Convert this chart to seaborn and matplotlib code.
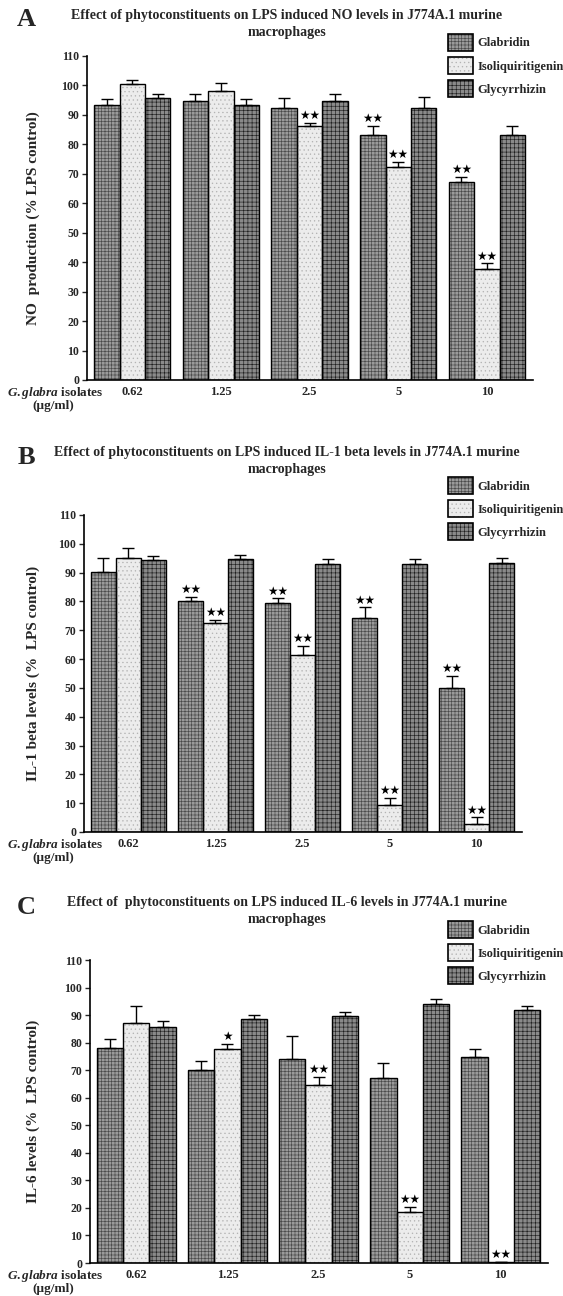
import numpy as np
import pandas as pd
import matplotlib
matplotlib.use("Agg")
import matplotlib.pyplot as plt
from matplotlib.patches import Patch, Rectangle
import seaborn as sns

# concentrations of the G. glabra isolates (ug/ml) and the three compounds
concentrations = ["0.62", "1.25", "2.5", "5", "10"]
compounds = ["Glabridin", "Isoliquiritigenin", "Glycyrrhizin"]

# A - NO production (% LPS control)
no_glab = [93.2, 94.7, 92.2, 83.2, 67.2]
no_glab_err = [2.1, 2.5, 3.6, 3.1, 1.8]
no_iso = [100.5, 98.0, 86.3, 72.3, 37.6]
no_iso_err = [1.5, 3.0, 1.0, 1.8, 2.0]
no_glyc = [95.7, 93.3, 94.7, 92.5, 83.3]
no_glyc_err = [1.5, 2.0, 2.5, 3.5, 3.0]
no_glab_sig = [0, 0, 0, 2, 2]
no_iso_sig = [0, 0, 2, 2, 2]
no_glyc_sig = [0, 0, 0, 0, 0]

# B - IL-1 beta levels (% LPS control)
il1_glab = [90.3, 80.3, 79.4, 74.2, 49.8]
il1_glab_err = [4.8, 1.4, 1.7, 3.8, 4.4]
il1_iso = [95.2, 72.5, 61.5, 9.2, 2.7]
il1_iso_err = [3.5, 1.2, 3.2, 2.7, 2.4]
il1_glyc = [94.5, 94.8, 93.0, 93.0, 93.2]
il1_glyc_err = [1.4, 1.4, 1.9, 1.9, 2.0]
il1_glab_sig = [0, 2, 2, 2, 2]
il1_iso_sig = [0, 2, 2, 2, 2]
il1_glyc_sig = [0, 0, 0, 0, 0]

# C - IL-6 levels (% LPS control)
il6_glab = [78.0, 70.0, 73.9, 67.3, 74.9]
il6_glab_err = [3.4, 3.5, 8.5, 5.4, 2.9]
il6_iso = [87.3, 77.6, 64.8, 18.6, 0.4]
il6_iso_err = [6.0, 2.0, 2.8, 1.8, 0.0]
il6_glyc = [85.8, 88.5, 89.5, 94.2, 92.0]
il6_glyc_err = [2.0, 1.5, 1.6, 1.8, 1.3]
il6_glab_sig = [0, 0, 0, 0, 0]
il6_iso_sig = [0, 1, 2, 2, 2]
il6_glyc_sig = [0, 0, 0, 0, 0]

yticks = list(range(0, 111, 10))

panels = [
    dict(letter="A",
         title="Effect of phytoconstituents on LPS induced NO levels in J774A.1 murine\nmacrophages",
         ylabel="NO  production (% LPS control)",
         vals=[no_glab, no_iso, no_glyc], errs=[no_glab_err, no_iso_err, no_glyc_err],
         sig=[no_glab_sig, no_iso_sig, no_glyc_sig],
         # layout in pixels: left, right, y of 110, y of 0, title y, legend top
         px=(87, 533, 56, 380, 15, 34)),
    dict(letter="B",
         title="Effect of phytoconstituents on LPS induced IL-1 beta levels in J774A.1 murine\nmacrophages",
         ylabel="IL-1 beta levels (%  LPS control)",
         vals=[il1_glab, il1_iso, il1_glyc], errs=[il1_glab_err, il1_iso_err, il1_glyc_err],
         sig=[il1_glab_sig, il1_iso_sig, il1_glyc_sig],
         px=(84, 522, 515, 832, 452, 477)),
    dict(letter="C",
         title="Effect of  phytoconstituents on LPS induced IL-6 levels in J774A.1 murine\nmacrophages",
         ylabel="IL-6 levels (%  LPS control)",
         vals=[il6_glab, il6_iso, il6_glyc], errs=[il6_glab_err, il6_iso_err, il6_glyc_err],
         sig=[il6_glab_sig, il6_iso_sig, il6_glyc_sig],
         px=(90, 548, 960, 1263, 902, 921)),
]

# halftone look of the printed bars: face colour, hatch, hatch colour
styles = {
    "Glabridin": ("#9a9a9a", "+++++", "#484848"),
    "Isoliquiritigenin": ("#ececec", "....", "#b4b4b4"),
    "Glycyrrhizin": ("#8a8a8a", "++++", "#1e1e1e"),
}

sns.set_style("white")
plt.rcParams["font.family"] = ["Liberation Serif", "DejaVu Sans"]
plt.rcParams["font.weight"] = "bold"
plt.rcParams["hatch.linewidth"] = 0.45
plt.rcParams["mathtext.fontset"] = "custom"
plt.rcParams["mathtext.it"] = "Liberation Serif:italic:bold"
plt.rcParams["mathtext.rm"] = "Liberation Serif:bold"

W, H = 563, 1296
fig = plt.figure(figsize=(W / 100, H / 100), dpi=100)

for p in panels:
    left, right, ytop, ybot, title_y, leg_top = p["px"]
    ax = fig.add_axes([left / W, 1 - ybot / H, (right - left) / W, (ybot - ytop) / H])

    df = pd.DataFrame({
        "conc": np.tile(concentrations, len(compounds)),
        "compound": np.repeat(compounds, len(concentrations)),
        "value": np.concatenate(p["vals"]),
        "err": np.concatenate(p["errs"]),
        "sig": np.concatenate(p["sig"]),
    })

    sns.barplot(data=df, x="conc", y="value", hue="compound",
                order=concentrations, hue_order=compounds,
                palette=[styles[c][0] for c in compounds],
                width=0.86, gap=0, errorbar=None, legend=False, ax=ax)

    for cont, comp in zip(ax.containers, compounds):
        face, hatch, hc = styles[comp]
        sub = df[df["compound"] == comp].set_index("conc").loc[concentrations]
        xs = []
        for bar, err, n in zip(cont, sub["err"], sub["sig"]):
            bar.set_edgecolor(hc)
            bar.set_hatch(hatch)
            bar.set_linewidth(0)
            ax.add_patch(Rectangle(bar.get_xy(), bar.get_width(), bar.get_height(),
                                   fill=False, edgecolor="black", linewidth=1.0, zorder=3))
            x = bar.get_x() + bar.get_width() / 2
            xs.append(x)
            if n:
                ax.annotate("\u2605" * int(n), (x, bar.get_height() + err), xytext=(0, 0.5),
                            textcoords="offset points", ha="center", va="bottom",
                            fontsize=8.5, family=["DejaVu Sans"], color="black")
        ax.errorbar(xs, sub["value"], yerr=[np.zeros(len(xs)), sub["err"]],
                    fmt="none", ecolor="black", elinewidth=1.0, capsize=4.5,
                    capthick=1.0, zorder=4)

    ax.set_xlim(-0.51, 4.52)
    ax.set_ylim(0, 110)
    ax.set_yticks(yticks)
    ax.tick_params(axis="y", direction="out", length=3.5, width=1, labelsize=8.5, pad=2, left=True)
    ax.tick_params(axis="x", length=0, labelsize=9, pad=4)
    for lab in ax.get_xticklabels() + ax.get_yticklabels():
        lab.set_fontweight("bold")
    ax.set_xlabel("")
    ax.set_ylabel(p["ylabel"], fontsize=11, fontweight="bold")
    ax.yaxis.set_label_coords(-(left - 40) / (right - left), 0.5)
    sns.despine(ax=ax)
    for s in ("left", "bottom"):
        ax.spines[s].set_color("black")
        ax.spines[s].set_linewidth(1.2)

    # x-axis caption at the left of the tick labels
    fig.text(55 / W, 1 - (ybot + 13) / H, r"$\mathit{G.glabra}$ isolates",
             ha="center", va="center", fontsize=9.5, fontweight="bold")
    fig.text(53 / W, 1 - (ybot + 26) / H, "(\u00b5g/ml)",
             ha="center", va="center", fontsize=9.5, fontweight="bold")

    fig.text(287 / W, 1 - (title_y + 9) / H, p["title"], ha="center", va="center",
             fontsize=10, fontweight="bold", linespacing=1.4)
    fig.text(26 / W, 1 - (title_y + 5) / H, p["letter"], ha="center", va="center",
             fontsize=19, fontweight="bold")

    handles = []
    for comp in compounds:
        face, hatch, hc = styles[comp]
        handles.append((Patch(facecolor=face, hatch=hatch, edgecolor=hc, linewidth=0),
                        Patch(fill=False, edgecolor="black", linewidth=1.2)))
    ax.legend(handles, compounds, loc="upper left",
              bbox_to_anchor=(448 / W, 1 - leg_top / H), bbox_transform=fig.transFigure,
              frameon=False, handlelength=2.0, handleheight=1.7,
              labelspacing=0.5, handletextpad=0.35, borderpad=0, borderaxespad=0,
              prop={"weight": "bold", "size": 9})

fig.savefig("out.png", dpi=100)
